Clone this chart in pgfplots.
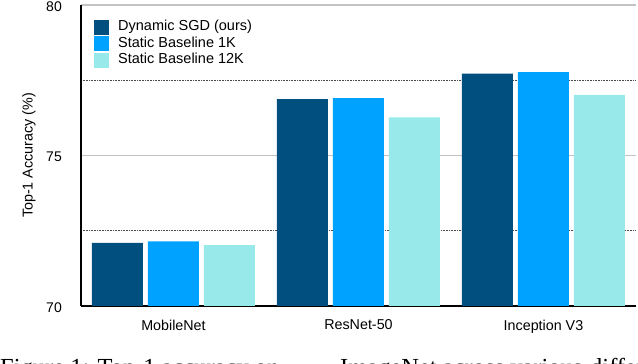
\documentclass[border=0pt]{standalone}
\usepackage{pgfplots}
\pgfplotsset{compat=1.18}
\usepackage{fontspec}
\setmainfont{Liberation Sans}
\newfontfamily\capfont{Liberation Serif}
\definecolor{cdark}{RGB}{0,79,127}
\definecolor{cblue}{RGB}{0,162,255}
\definecolor{ccyan}{RGB}{152,233,233}
\definecolor{gridgray}{RGB}{195,195,195}
\begin{document}
\begin{tikzpicture}
\begin{axis}[
  scale only axis,
  width=555pt, height=301pt,
  at={(0pt,0pt)}, anchor=south west,
  xmin=-0.5, xmax=2.5,
  ymin=70, ymax=80,
  ytick={70,75,80},
  minor ytick={72.5,77.5},
  xtick={0,1,2},
  xticklabels={MobileNet,ResNet-50,Inception V3},
  ybar=5pt, bar width=51pt,
  axis x line*=bottom, axis y line*=left,
  axis line style={black, line width=1.3pt, -},
  tick style={draw=none},
  ymajorgrids, yminorgrids,
  major grid style={gridgray, line width=1.3pt},
  minor grid style={black!70, line width=0.6pt, dash pattern=on 0.8pt off 0.8pt},
  /pgf/number format/assume math mode=true,
  yticklabel style={font=\fontsize{14}{16}\selectfont, inner sep=0pt, anchor=east, xshift=-19pt, yshift=-1.5pt},
  xticklabel style={font=\fontsize{14.3}{16}\selectfont, inner sep=0pt, anchor=north, yshift=-9.5pt},
  ylabel={Top-1 Accuracy (\%)},
  every axis y label/.style={at={(rel axis cs:0,0.5)}, xshift=-52pt, rotate=90, anchor=center, font=\fontsize{14.3}{16}\selectfont},
  legend image code/.code={\draw[#1,draw=none] (0pt,-7.5pt) rectangle (15pt,7.5pt);},
  legend style={at={(rel axis cs:0,1)}, anchor=north west, xshift=13pt, yshift=-14.5pt,
    draw=none, fill=none, inner sep=0pt, row sep=1.5pt, column sep=9pt,
    font=\fontsize{14.5}{16}\selectfont,
    nodes={inner sep=0pt, text height=11pt, text depth=4pt}},
  legend cell align=left,
]
\addplot[fill=cdark, draw=none] coordinates {(0,72.10) (1,76.87) (2,77.72)};
\addplot[fill=cblue, draw=none] coordinates {(0,72.15) (1,76.91) (2,77.77)};
\addplot[fill=ccyan, draw=none] coordinates {(0,72.02) (1,76.27) (2,77.01)};
\legend{Dynamic SGD (ours),Static Baseline 1K,Static Baseline 12K}
\end{axis}
\node[anchor=base west, inner sep=0pt, font=\capfont\fontsize{24.5}{28}\selectfont] at (-81pt,-70pt) {Figure 1: Top-1 accuracy on};
\node[anchor=base west, inner sep=0pt, font=\capfont\fontsize{24.5}{28}\selectfont] at (259pt,-70pt) {ImageNet across various};
\node[anchor=base west, inner sep=0pt, font=\capfont\fontsize{24.5}{28}\selectfont] at (509pt,-70pt) {different};
\pgfresetboundingbox
\useasboundingbox (-81pt,-58pt) rectangle (557pt,306pt);
\end{tikzpicture}
\end{document}
